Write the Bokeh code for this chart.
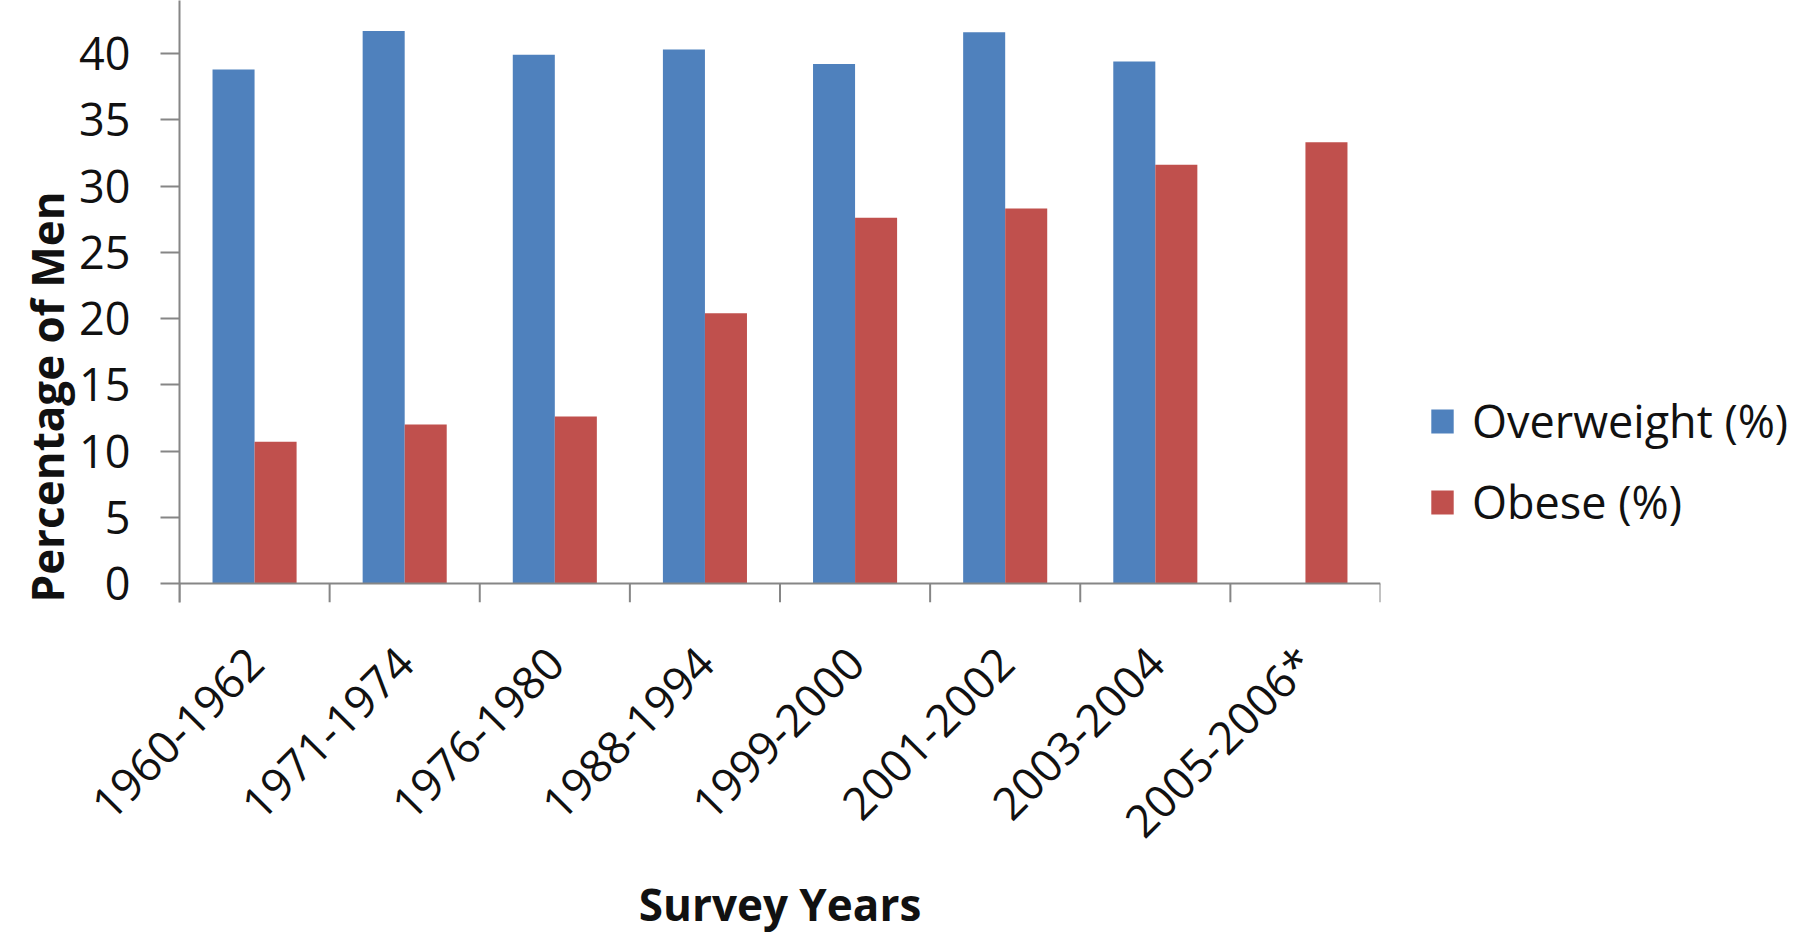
import math
from bokeh.plotting import figure
from bokeh.models import (FactorRange, Range1d, CategoricalAxis, FixedTicker, Span, Title,
                          Legend, LegendItem, ColumnDataSource)
from bokeh.transform import dodge
from bokeh.embed import file_html
from bokeh.resources import INLINE

# ---- data ----
years = ["1960-1962", "1971-1974", "1976-1980", "1988-1994",
         "1999-2000", "2001-2002", "2003-2004", "2005-2006*"]
overweight = [38.8, 41.7, 39.9, 40.3, 39.2, 41.6, 39.4, float("nan")]
obese = [10.7, 12.0, 12.6, 20.4, 27.6, 28.3, 31.6, 33.3]
y_ticks = [0, 5, 10, 15, 20, 25, 30, 35, 40, 45]
series_names = ["Overweight (%)", "Obese (%)"]

BLUE = "#4F81BD"
RED = "#C0504D"
AXIS = "#868686"
FONT = "Open Sans"
TXT = "#111111"

Y_TOP = 44.0
TICK_LEN = 19 / 13.25          # category tick length expressed in y units (below 0)

src = ColumnDataSource(dict(years=years, overweight=overweight, obese=obese))

p = figure(frame_width=1201, frame_height=602,
           x_range=FactorRange(*years, range_padding=0),
           y_range=Range1d(-TICK_LEN, Y_TOP), x_axis_type=None,
           output_backend="svg", toolbar_location=None,
           min_border_left=179, min_border_right=0, min_border_top=0, min_border_bottom=334)
p.outline_line_color = None
p.grid.grid_line_color = None
p.background_fill_color = "white"
p.border_fill_color = "white"

r1 = p.vbar(x=dodge("years", -0.14, range=p.x_range), top="overweight", width=0.28,
            source=src, fill_color=BLUE, line_color=None)
r2 = p.vbar(x=dodge("years", 0.14, range=p.x_range), top="obese", width=0.28,
            source=src, fill_color=RED, line_color=None)

# horizontal axis line at 0 and tick marks at the category boundaries
p.add_layout(Span(location=0, dimension="width", line_color=AXIS, line_width=2))
bounds = list(range(len(years) + 1))
p.segment(x0=bounds, y0=[0] * len(bounds), x1=bounds, y1=[-TICK_LEN] * len(bounds),
          line_color=AXIS, line_width=2)

# y axis
ya = p.yaxis[0]
ya.ticker = FixedTicker(ticks=y_ticks)
ya.axis_line_color = AXIS
ya.axis_line_width = 2
ya.major_tick_line_color = AXIS
ya.major_tick_line_width = 2
ya.major_tick_out = 19
ya.major_tick_in = 0
ya.minor_tick_line_color = None
ya.major_label_text_font = FONT
ya.major_label_text_font_size = "45px"
ya.major_label_text_color = TXT
ya.major_label_standoff = 30

# x axis: category labels
xc = CategoricalAxis()
xc.axis_line_color = None
xc.major_tick_line_color = None
xc.minor_tick_line_color = None
xc.major_label_orientation = math.pi / 4
xc.major_label_text_font = FONT
xc.major_label_text_font_size = "45px"
xc.major_label_text_color = TXT
xc.major_label_standoff = 46
xc.axis_label = "Survey Years"
xc.axis_label_text_font = FONT
xc.axis_label_text_font_style = "bold"
xc.axis_label_text_font_size = "44px"
xc.axis_label_text_color = TXT
xc.axis_label_standoff = 0
p.add_layout(xc, "below")

# y axis title
ytitle = Title(text="Percentage of Men", align="left", offset=0, vertical_align="bottom",
               standoff=0, text_font=FONT, text_font_style="bold", text_font_size="44px",
               text_color=TXT)
p.add_layout(ytitle, "left")

legend = Legend(items=[LegendItem(label=series_names[0], renderers=[r1]),
                       LegendItem(label=series_names[1], renderers=[r2])],
                location=(48, 70), orientation="vertical",
                glyph_width=28, glyph_height=30, label_standoff=16, spacing=20,
                padding=0, margin=0, border_line_color=None, background_fill_alpha=0,
                label_text_font=FONT, label_text_font_size="45px", label_text_color=TXT)
p.add_layout(legend, "right")

open("out.html", "w").write(file_html(p, INLINE))
